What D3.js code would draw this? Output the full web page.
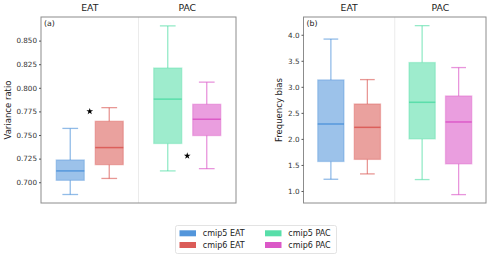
<!DOCTYPE html>
<html>
<head>
<meta charset="utf-8">
<script src="https://cdn.jsdelivr.net/npm/d3@7"></script>
<style>
  body { margin: 0; background: #fff; }
  svg { font-family: "DejaVu Sans", sans-serif; }
</style>
</head>
<body>
<div id="chart"></div>
<script>
// regioner och modeller
const regions = ["EAT", "PAC"];
const models = ["cmip5", "cmip6"];
const seriesNames = ["cmip5 EAT", "cmip6 EAT", "cmip5 PAC", "cmip6 PAC"];
const colors = ["#4a90d9", "#d9534f", "#4fdca4", "#d94fc4"];

// boxvärden [min, q1, median, q3, max], i ordning cmip5 EAT, cmip6 EAT, cmip5 PAC, cmip6 PAC
const varianceBoxes = [
    [0.687, 0.702, 0.712, 0.7236, 0.757],
    [0.704, 0.7186, 0.7367, 0.7646, 0.779],
    [0.712, 0.741, 0.788, 0.821, 0.8656],
    [0.7144, 0.7494, 0.7667, 0.7826, 0.806]
];
const varianceStars = [0.775, 0.728]; // EAT, PAC
const varianceTicks = [0.700, 0.725, 0.750, 0.775, 0.800, 0.825, 0.850];

const biasBoxes = [
    [1.225, 1.566, 2.286, 3.133, 3.917],
    [1.328, 1.606, 2.222, 2.671, 3.139],
    [1.219, 2.0, 2.703, 3.467, 4.175],
    [0.93, 1.52, 2.325, 2.825, 3.37]
];
const biasTicks = [1.0, 1.5, 2.0, 2.5, 3.0, 3.5, 4.0];

const svg = d3.select("#chart").append("svg")
    .attr("width", 500)
    .attr("height", 258);

function drawPanel(opt) {
    const g = svg.append("g");

    const x = d3.scaleBand().domain(regions).range([opt.left, opt.right]);
    const hue = d3.scaleBand().domain(models)
        .range([x.bandwidth() * 0.1, x.bandwidth() * 0.9]);
    const y = d3.scaleLinear().domain(opt.domain).range([opt.bottom, opt.top]);
    const boxW = hue.bandwidth() * 0.72;

    // skiljelinje mellan regionerna
    g.append("line")
        .attr("x1", x("PAC")).attr("x2", x("PAC"))
        .attr("y1", opt.top).attr("y2", opt.bottom)
        .attr("stroke", "#e6e6e6").attr("stroke-width", 0.8);

    // boxar
    opt.boxes.forEach((b, i) => {
        const region = regions[Math.floor(i / 2)];
        const model = models[i % 2];
        const cx = x(region) + hue(model) + hue.bandwidth() / 2;
        const c = colors[i];
        const bg = g.append("g");

        bg.append("line")
            .attr("x1", cx).attr("x2", cx)
            .attr("y1", y(b[4])).attr("y2", y(b[3]))
            .attr("stroke", c).attr("stroke-opacity", 0.6).attr("stroke-width", 1.3);
        bg.append("line")
            .attr("x1", cx).attr("x2", cx)
            .attr("y1", y(b[1])).attr("y2", y(b[0]))
            .attr("stroke", c).attr("stroke-opacity", 0.6).attr("stroke-width", 1.3);
        [b[0], b[4]].forEach(v => {
            bg.append("line")
                .attr("x1", cx - boxW * 0.28).attr("x2", cx + boxW * 0.28)
                .attr("y1", y(v)).attr("y2", y(v))
                .attr("stroke", c).attr("stroke-opacity", 0.6).attr("stroke-width", 1.3);
        });
        bg.append("rect")
            .attr("x", cx - boxW / 2)
            .attr("y", y(b[3]))
            .attr("width", boxW)
            .attr("height", y(b[1]) - y(b[3]))
            .attr("fill", c).attr("fill-opacity", 0.55)
            .attr("stroke", c).attr("stroke-opacity", 0.35).attr("stroke-width", 1.3);
        bg.append("line")
            .attr("x1", cx - boxW / 2).attr("x2", cx + boxW / 2)
            .attr("y1", y(b[2])).attr("y2", y(b[2]))
            .attr("stroke", c).attr("stroke-opacity", 0.85).attr("stroke-width", 1.5);
    });

    // stjärnor
    if (opt.stars) {
        g.selectAll(".star")
            .data(opt.stars)
            .enter().append("path")
            .attr("d", d3.symbol().type(d3.symbolStar).size(14))
            .attr("transform", (d, i) => `translate(${x(regions[i]) + x.bandwidth() / 2},${y(d)})`)
            .attr("fill", "#000");
    }

    // ram
    g.append("rect")
        .attr("x", opt.left).attr("y", opt.top)
        .attr("width", opt.right - opt.left)
        .attr("height", opt.bottom - opt.top)
        .attr("fill", "none")
        .attr("stroke", "#8c8c8c").attr("stroke-width", 1);

    // y-axel
    const yAxis = g.append("g")
        .attr("transform", `translate(${opt.left},0)`)
        .call(d3.axisLeft(y).tickValues(opt.ticks).tickFormat(opt.format).tickSize(2).tickPadding(2));
    yAxis.select(".domain").remove();
    yAxis.selectAll("line").attr("stroke", "#555");
    yAxis.selectAll("text")
        .attr("font-size", 7.2)
        .attr("fill", "#333")
        .attr("font-family", "DejaVu Sans");

    // y-etikett
    g.append("text")
        .attr("transform", `translate(${opt.labelX},${(opt.top + opt.bottom) / 2}) rotate(-90)`)
        .attr("text-anchor", "middle")
        .attr("dy", "0.35em")
        .attr("font-size", 8.5)
        .attr("fill", "#222")
        .text(opt.label);

    // regionrubriker
    g.selectAll(".title")
        .data(regions)
        .enter().append("text")
        .attr("x", d => x(d) + x.bandwidth() / 2)
        .attr("y", 11)
        .attr("text-anchor", "middle")
        .attr("font-size", 9.3)
        .attr("fill", "#222")
        .text(d => d);

    // panelbokstav
    g.append("text")
        .attr("x", opt.left + 3)
        .attr("y", opt.top + 9)
        .attr("font-size", 7.8)
        .attr("fill", "#222")
        .text(opt.tag);
}

drawPanel({
    left: 41, right: 236, top: 17, bottom: 203,
    domain: [0.678, 0.875],
    boxes: varianceBoxes, stars: varianceStars,
    ticks: varianceTicks, format: d3.format(".3f"),
    label: "Variance ratio", labelX: 8, tag: "(a)"
});

drawPanel({
    left: 303.5, right: 486, top: 17, bottom: 203,
    domain: [0.769, 4.341],
    boxes: biasBoxes,
    ticks: biasTicks, format: d3.format(".1f"),
    label: "Frequency bias", labelX: 279, tag: "(b)"
});

// förklaring
const legend = svg.append("g");
legend.append("rect")
    .attr("x", 175.5).attr("y", 225.5)
    .attr("width", 161).attr("height", 28)
    .attr("rx", 2)
    .attr("fill", "#fff")
    .attr("stroke", "#dcdcdc").attr("stroke-width", 0.8);

const legendCols = [179.5, 265];
const legendRows = [233.3, 245];
seriesNames.forEach((name, i) => {
    const col = Math.floor(i / 2);
    const row = i % 2;
    legend.append("rect")
        .attr("x", legendCols[col]).attr("y", legendRows[row] - 3)
        .attr("width", 16.5).attr("height", 6)
        .attr("fill", colors[i]).attr("fill-opacity", 0.95);
    legend.append("text")
        .attr("x", legendCols[col] + 23.3)
        .attr("y", legendRows[row])
        .attr("dy", "0.35em")
        .attr("font-size", 8)
        .attr("fill", "#222")
        .text(name);
});
</script>
</body>
</html>
